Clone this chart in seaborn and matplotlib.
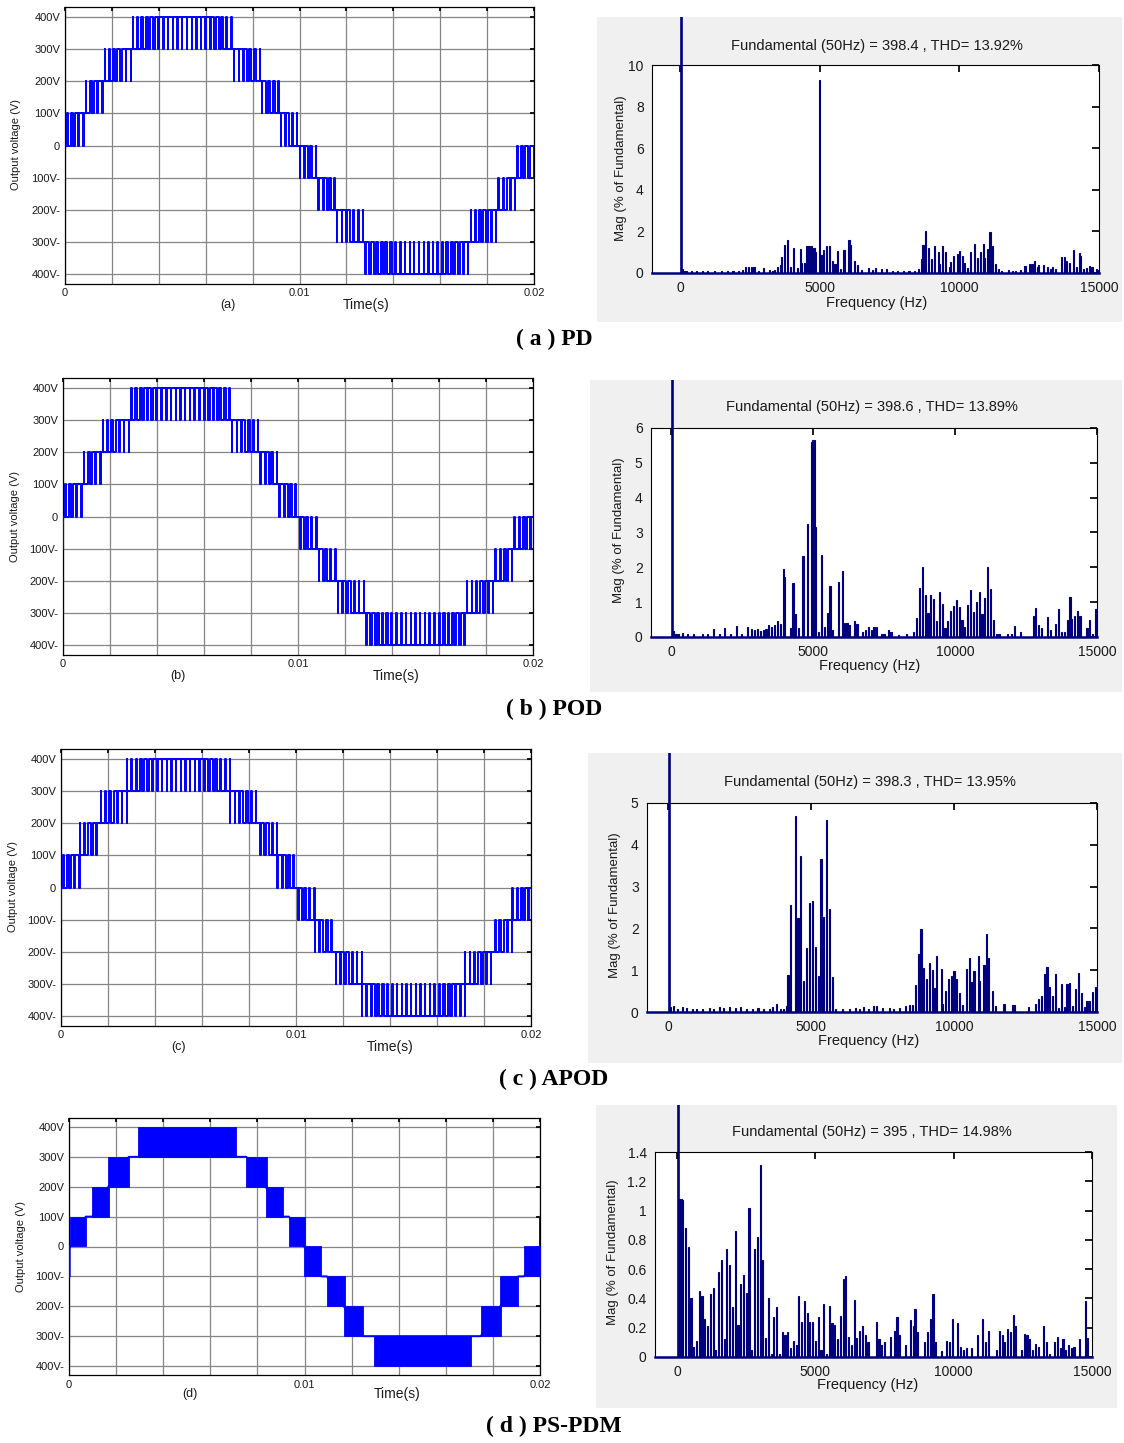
import numpy as np
import pandas as pd
import matplotlib
matplotlib.use("Agg")
import matplotlib.pyplot as plt
from matplotlib.patches import Rectangle
import seaborn as sns

# ----------------------------------------------------------------- data
# mean output voltage in each 0.2 ms carrier period, panels (a)-(c)
carrier_period_ms = 0.2
period_mean_v = [
    12, 37, 62, 87, 111, 135, 158, 181, 203, 224, 244, 263, 281, 299, 315, 329, 343, 355, 365, 375,
    382, 388, 393, 396, 398, 398, 396, 393, 388, 382, 375, 365, 355, 343, 329, 315, 299, 281, 263, 244,
    224, 203, 181, 158, 135, 111, 87, 62, 37, 12,
    -12, -37, -62, -87, -111, -135, -158, -181, -203, -224, -244, -263, -281, -299, -315, -329, -343, -355, -365, -375,
    -382, -388, -393, -396, -398, -398, -396, -393, -388, -382, -375, -365, -355, -343, -329, -315, -299, -281, -263, -244,
    -224, -203, -181, -158, -135, -111, -87, -62, -37, -12,
]
# carrier bands (index = floor(v/100)) whose carrier is phase-opposed
inverted_bands_a = []
inverted_bands_b = [-1, -2, -3, -4]
inverted_bands_c = [1, 3, -1, -3]
start_dip_v = [None, -100, -100]          # short initial dip seen in (b), (c)

# PS-PDM (d): solid switching blocks, ms and lower level (V), each block 100 V tall
d_block_start_ms = [0.06, 0.99, 1.67, 2.95, 7.53, 8.35, 9.34, 9.99, 10.95, 11.67, 12.93, 17.48, 18.31, 19.32]
d_block_end_ms = [0.71, 1.70, 2.54, 7.10, 8.40, 9.08, 10.04, 10.71, 11.70, 12.50, 17.08, 18.36, 19.07, 20.0]
d_block_low_v = [0, 100, 200, 300, 200, 100, 0, -100, -200, -300, -400, -300, -200, -100]
d_start_v = [-100, 0]
d_end_v = [0, 100]

volt_ticks = [400, 300, 200, 100, 0, -100, -200, -300, -400]
volt_labels = ["400V", "300V", "200V", "100V", "0", "100V-", "200V-", "300V-", "400V-"]
time_ticks = [0, 0.002, 0.004, 0.006, 0.008, 0.01, 0.012, 0.014, 0.016, 0.018, 0.02]
time_labels = ["0", "", "", "", "", "0.01", "", "", "", "", "0.02"]
panel_letters = ["(a)", "(b)", "(c)", "(d)"]
captions = ["( a ) PD", "( b ) POD", "( c ) APOD", "( d ) PS-PDM"]

# harmonic spectra: (frequency Hz, magnitude % of fundamental)
spec_a = [(50, 100), (100, 0.2), (150, 0.12), (250, 0.1), (400, 0.08), (600, 0.1), (800, 0.1), (1000, 0.08),
          (1250, 0.1), (1500, 0.12), (1700, 0.08), (1900, 0.12), (2100, 0.1), (2250, 0.15), (2350, 0.3),
          (2450, 0.28), (2550, 0.3), (2650, 0.3), (2800, 0.12), (3000, 0.25), (3200, 0.15), (3300, 0.12),
          (3400, 0.15), (3500, 0.3), (3600, 0.4), (3650, 0.75), (3750, 1.35), (3850, 1.6), (3950, 0.3),
          (4050, 1.2), (4200, 0.25), (4300, 1.15), (4350, 0.5), (4450, 0.5), (4550, 1.3), (4600, 1.3),
          (4650, 1.3), (4700, 1.3), (4800, 1.2), (4850, 1.0), (5000, 9.3), (5050, 0.85), (5150, 1.1),
          (5250, 1.3), (5350, 1.3), (5450, 0.6), (5550, 0.45), (5650, 1.05), (5750, 0.2), (5850, 1.1),
          (5900, 1.1), (6050, 1.6), (6100, 1.35), (6250, 0.6), (6350, 0.4), (6500, 0.15), (6750, 0.25),
          (6900, 0.15), (7000, 0.25), (7200, 0.2), (7400, 0.2), (7600, 0.12), (7800, 0.1), (8000, 0.1),
          (8200, 0.08), (8400, 0.1), (8550, 0.2), (8650, 0.65), (8700, 1.35), (8800, 2.0), (8900, 1.2),
          (9000, 0.65), (9100, 1.3), (9250, 1.0), (9300, 0.45), (9400, 1.3), (9500, 1.0), (9650, 0.3),
          (9700, 0.55), (9800, 0.8), (9950, 0.9), (10000, 1.05), (10100, 0.8), (10200, 0.5), (10300, 0.25),
          (10400, 1.0), (10550, 1.4), (10650, 0.7), (10750, 1.0), (10850, 1.4), (10900, 0.7), (11000, 1.15),
          (11100, 1.95), (11200, 1.3), (11300, 0.45), (11400, 0.2), (11500, 0.1), (11750, 0.15), (11900, 0.1),
          (12000, 0.1), (12200, 0.15), (12350, 0.35), (12500, 0.45), (12600, 0.45), (12700, 0.6), (12800, 0.3),
          (12850, 0.4), (13000, 0.4), (13150, 0.3), (13250, 0.2), (13350, 0.3), (13450, 0.2), (13650, 0.75),
          (13750, 0.75), (13850, 0.6), (13950, 0.5), (14100, 1.1), (14200, 0.3), (14300, 0.95), (14350, 0.8),
          (14450, 0.2), (14550, 0.25), (14650, 0.35), (14750, 0.3), (14900, 0.2), (15000, 0.15)]

spec_b = [(50, 100), (100, 0.18), (150, 0.1), (250, 0.08), (400, 0.12), (600, 0.08), (800, 0.1), (1100, 0.08),
          (1300, 0.1), (1500, 0.22), (1700, 0.1), (1900, 0.26), (2100, 0.08), (2300, 0.32), (2500, 0.1),
          (2700, 0.3), (2850, 0.22), (2950, 0.2), (3050, 0.22), (3150, 0.18), (3250, 0.2), (3350, 0.22),
          (3450, 0.35), (3550, 0.3), (3650, 0.35), (3750, 0.45), (3850, 0.38), (3950, 1.95), (4000, 1.72),
          (4200, 0.25), (4300, 1.55), (4400, 0.65), (4500, 0.25), (4650, 2.32), (4800, 3.25), (4950, 5.6),
          (5000, 5.65), (5050, 5.65), (5100, 3.15), (5200, 0.15), (5300, 2.35), (5400, 0.3), (5500, 0.7),
          (5600, 1.45), (5700, 0.2), (5900, 1.58), (6050, 1.9), (6100, 0.4), (6200, 0.4), (6300, 0.35),
          (6450, 0.45), (6550, 0.38), (6750, 0.15), (6850, 0.2), (6950, 0.3), (7050, 0.2), (7150, 0.3),
          (7250, 0.3), (7400, 0.08), (7500, 0.1), (7650, 0.2), (7750, 0.15), (8000, 0.06), (8300, 0.1),
          (8550, 0.15), (8650, 0.55), (8750, 1.4), (8850, 2.0), (8950, 1.2), (9050, 0.7), (9150, 1.22),
          (9250, 1.1), (9350, 0.45), (9450, 1.3), (9550, 0.95), (9650, 0.25), (9750, 0.45), (9850, 0.75),
          (9950, 0.9), (10050, 1.05), (10150, 0.85), (10250, 0.5), (10350, 0.3), (10450, 0.92), (10550, 1.35),
          (10650, 0.72), (10750, 1.0), (10850, 1.28), (10950, 0.65), (11050, 1.12), (11150, 2.0), (11250, 1.38),
          (11350, 0.48), (11450, 0.1), (11550, 0.1), (11850, 0.1), (12000, 0.1), (12100, 0.33), (12300, 0.15),
          (12750, 0.6), (12850, 0.83), (12950, 0.35), (13050, 0.27), (13250, 0.57), (13350, 0.2), (13550, 0.38),
          (13650, 0.8), (13750, 0.15), (13850, 0.15), (13950, 0.48), (14050, 1.15), (14100, 0.52), (14200, 0.6),
          (14300, 0.75), (14400, 0.6), (14650, 0.25), (14750, 0.5), (14850, 0.1), (14950, 0.8), (15000, 0.8)]

spec_c = [(50, 100), (100, 0.12), (200, 0.15), (350, 0.08), (500, 0.12), (650, 0.1), (850, 0.08), (1000, 0.06),
          (1200, 0.08), (1450, 0.1), (1600, 0.08), (1800, 0.12), (1950, 0.1), (2150, 0.12), (2350, 0.1),
          (2550, 0.12), (2750, 0.08), (2950, 0.08), (3150, 0.1), (3350, 0.08), (3550, 0.06), (3650, 0.12),
          (3800, 0.18), (3950, 0.08), (4050, 0.08), (4150, 0.15), (4200, 0.88), (4300, 2.55), (4450, 4.68),
          (4550, 2.25), (4650, 3.73), (4750, 0.75), (4850, 1.52), (4950, 2.6), (5050, 2.65), (5150, 1.55),
          (5250, 0.85), (5350, 3.65), (5450, 2.27), (5550, 4.6), (5650, 2.47), (5750, 0.83), (5850, 0.08),
          (6100, 0.06), (6350, 0.08), (6550, 0.1), (6700, 0.08), (6850, 0.12), (7000, 0.06), (7200, 0.15),
          (7300, 0.15), (7500, 0.1), (7750, 0.1), (7900, 0.08), (8100, 0.1), (8300, 0.15), (8450, 0.17),
          (8550, 0.17), (8650, 0.65), (8750, 1.38), (8850, 1.98), (8950, 1.05), (9050, 0.8), (9150, 1.18),
          (9250, 1.0), (9300, 0.57), (9400, 1.33), (9550, 1.03), (9600, 0.2), (9700, 0.5), (9800, 0.8),
          (9900, 0.85), (10000, 0.98), (10100, 0.8), (10200, 0.45), (10300, 0.17), (10450, 1.03), (10550, 1.3),
          (10600, 0.72), (10700, 0.98), (10850, 1.35), (10900, 0.75), (11050, 1.13), (11150, 1.87), (11200, 1.28),
          (11350, 0.5), (11450, 0.15), (11750, 0.18), (12050, 0.17), (12100, 0.17), (12600, 0.12), (12850, 0.2),
          (12950, 0.3), (13050, 0.38), (13150, 0.9), (13250, 1.08), (13350, 0.6), (13450, 0.38), (13550, 0.9),
          (13650, 0.1), (13750, 0.68), (13850, 0.12), (13950, 0.66), (14050, 0.7), (14150, 0.15), (14250, 0.55),
          (14350, 0.93), (14450, 0.45), (14550, 0.12), (14650, 0.27), (14750, 0.27), (14850, 0.48), (14950, 0.6),
          (15000, 0.6)]

spec_d = [(50, 100), (100, 1.08), (150, 1.08), (200, 1.07), (300, 0.88), (400, 0.75), (500, 0.4), (600, 0.07),
          (700, 0.11), (800, 0.45), (900, 0.42), (1000, 0.26), (1100, 0.21), (1200, 0.43), (1300, 0.47),
          (1400, 0.05), (1500, 0.58), (1600, 0.66), (1700, 0.12), (1800, 0.74), (1900, 0.63), (2000, 0.34),
          (2100, 0.86), (2200, 0.22), (2300, 0.5), (2400, 0.56), (2500, 0.44), (2600, 1.02), (2700, 0.05),
          (2800, 0.74), (2900, 0.82), (3000, 1.31), (3100, 0.66), (3200, 0.13), (3300, 0.4), (3400, 0.02),
          (3500, 0.27), (3600, 0.34), (3700, 0.02), (3800, 0.17), (3900, 0.15), (4000, 0.17), (4100, 0.06),
          (4200, 0.11), (4300, 0.08), (4400, 0.42), (4500, 0.24), (4600, 0.38), (4700, 0.3), (4800, 0.24),
          (4900, 0.24), (5000, 0.11), (5100, 0.27), (5200, 0.05), (5300, 0.36), (5400, 0.02), (5500, 0.35),
          (5600, 0.23), (5700, 0.22), (5800, 0.12), (5900, 0.28), (6000, 0.53), (6100, 0.55), (6200, 0.14),
          (6300, 0.08), (6400, 0.39), (6500, 0.13), (6600, 0.18), (6700, 0.21), (6800, 0.15), (6900, 0.1),
          (7200, 0.24), (7300, 0.12), (7400, 0.08), (7500, 0.1), (7700, 0.14), (7850, 0.18), (7950, 0.27),
          (8050, 0.15), (8250, 0.08), (8450, 0.25), (8550, 0.21), (8600, 0.33), (8700, 0.17), (8950, 0.1),
          (9050, 0.17), (9150, 0.26), (9250, 0.43), (9350, 0.1), (9550, 0.04), (9750, 0.11), (9850, 0.1),
          (9950, 0.26), (10150, 0.23), (10250, 0.07), (10350, 0.05), (10450, 0.06), (10650, 0.06), (10850, 0.15),
          (11050, 0.26), (11150, 0.1), (11250, 0.18), (11550, 0.05), (11650, 0.18), (11750, 0.15), (11850, 0.1),
          (11950, 0.19), (12050, 0.17), (12150, 0.29), (12250, 0.21), (12450, 0.05), (12550, 0.16), (12650, 0.15),
          (12750, 0.12), (12850, 0.05), (12950, 0.09), (13050, 0.07), (13250, 0.21), (13350, 0.1), (13450, 0.02),
          (13650, 0.1), (13750, 0.14), (13850, 0.06), (13950, 0.12), (14050, 0.05), (14150, 0.08), (14250, 0.06),
          (14350, 0.07), (14550, 0.12), (14750, 0.38), (14850, 0.13)]

fund_titles = ["Fundamental (50Hz) = 398.4 , THD= 13.92%",
               "Fundamental (50Hz) = 398.6 , THD= 13.89%",
               "Fundamental (50Hz) = 398.3 , THD= 13.95%",
               "Fundamental (50Hz) = 395 , THD= 14.98%"]
spec_yticks = [[0, 2, 4, 6, 8, 10], [0, 1, 2, 3, 4, 5, 6], [0, 1, 2, 3, 4, 5],
               [0, 0.2, 0.4, 0.6, 0.8, 1.0, 1.2, 1.4]]
spec_yticklabels = [["0", "2", "4", "6", "8", "10"], ["0", "1", "2", "3", "4", "5", "6"],
                    ["0", "1", "2", "3", "4", "5"],
                    ["0", "0.2", "0.4", "0.6", "0.8", "1", "1.2", "1.4"]]
freq_ticks = [0, 5000, 10000, 15000]

# ----------------------------------------------------------------- layout (pixels)
W, H = 1124, 1443
left_boxes = [(65, 7.4, 534, 283.6), (63, 378.4, 533, 654.6), (61, 749.4, 531, 1025.6), (69, 1118, 540, 1375)]
left_ylabel_xy = [(16, 145), (15, 517), (13, 887), (21, 1246)]
left_letter_xy = [(228, 305), (178, 676), (179, 1047), (190, 1394)]
left_time_xy = [(366, 305), (396, 676), (390, 1047), (397, 1394)]
gray_boxes = [(597, 17, 1122, 322), (590, 380, 1122, 692), (588, 753, 1122, 1063), (596, 1105, 1117, 1408)]
right_boxes = [(652, 65, 1099, 273), (651, 428, 1097, 637), (647, 803, 1097, 1012), (655, 1152, 1092, 1357)]
right_xmin = [-1000, -700, -730, -800]
title_xy = [(877, 46), (872, 407), (870, 782), (872, 1132)]
xlabel_xy = [(877, 303), (870, 666), (869, 1041), (868, 1385)]
ylabel_xy = [(621, 168), (619, 530), (615, 905), (613, 1252)]
caption_xy = [(554, 339), (554, 709), (554, 1079), (554, 1426)]

WAVE_BLUE = "#0000ff"
BAR_NAVY = "#00007f"
TXT = "#1a1a1a"

sns.set_theme(style="white")
plt.rcParams['font.family'] = ['Liberation Sans', 'DejaVu Sans']


def frect(x0, y0, x1, y1):
    return [x0 / W, 1 - y1 / H, (x1 - x0) / W, (y1 - y0) / H]


def fpt(x, y):
    return x / W, 1 - y / H


def pwm_trace(means, T, inverted, dip):
    t, v = [], []
    if dip is not None:
        t.append(0.0)
        v.append(dip)
    for k, m in enumerate(means):
        lo = np.floor(m / 100.0) * 100.0
        d = (m - lo) / 100.0
        band = int(lo // 100)
        t0 = k * T + (0.02 if (k == 0 and dip is not None) else 0.0)
        if band in inverted:
            t += [t0, k * T + d * T / 2, k * T + T - d * T / 2]
            v += [lo + 100, lo, lo + 100]
        else:
            t += [t0, k * T + (1 - d) * T / 2, k * T + (1 + d) * T / 2]
            v += [lo, lo + 100, lo]
    t.append(len(means) * T)
    v.append(v[-1])
    return np.array(t) / 1000.0, np.array(v)


fig = plt.figure(figsize=(W / 100, H / 100), dpi=100)
fig.patch.set_facecolor("white")

inverted_sets = [inverted_bands_a, inverted_bands_b, inverted_bands_c]

# ---------------------------------------------------------- time-domain panels
for i in range(4):
    ax = fig.add_axes(frect(*left_boxes[i]))
    ax.set_facecolor("white")
    if i < 3:
        t, v = pwm_trace(period_mean_v, carrier_period_ms, inverted_sets[i], start_dip_v[i])
        df = pd.DataFrame({"t": t, "v": v})
        sns.lineplot(data=df, x="t", y="v", ax=ax, estimator=None, sort=False,
                     drawstyle="steps-post", color=WAVE_BLUE, linewidth=1.4, zorder=3)
    else:
        # connecting path between the solid PS-PDM blocks
        pt, pv = [0.0, 0.03, 0.03], [d_start_v[0], d_start_v[0], d_start_v[1]]
        n = len(d_block_low_v)
        for j in range(n):
            lo_j, hi_j = d_block_low_v[j], d_block_low_v[j] + 100
            if j == 0:
                lvl_in = d_start_v[1]
            else:
                plo, phi = d_block_low_v[j - 1], d_block_low_v[j - 1] + 100
                lvl_in = lo_j if lo_j in (plo, phi) else hi_j
            if j == n - 1:
                lvl_out = d_end_v[0]
            else:
                nlo, nhi = d_block_low_v[j + 1], d_block_low_v[j + 1] + 100
                lvl_out = lo_j if lo_j in (nlo, nhi) else hi_j
            pt += [d_block_start_ms[j], d_block_end_ms[j]]
            pv += [lvl_in, lvl_out]
        pt += [20.0]
        pv += [d_end_v[1]]
        df = pd.DataFrame({"t": np.array(pt) / 1000.0, "v": pv})
        sns.lineplot(data=df, x="t", y="v", ax=ax, estimator=None, sort=False,
                     color=WAVE_BLUE, linewidth=1.4, zorder=3)
        for s, e, lo in zip(d_block_start_ms, d_block_end_ms, d_block_low_v):
            ax.fill_between([s / 1000.0, e / 1000.0], [lo, lo], [lo + 100, lo + 100],
                            color=WAVE_BLUE, linewidth=0.6, edgecolor=WAVE_BLUE, zorder=4)
    ax.set_xlim(0, 0.02)
    ax.set_ylim(-430, 430)
    ax.set_yticks(volt_ticks)
    ax.set_yticklabels(volt_labels)
    ax.set_xticks(time_ticks)
    ax.set_xticklabels(time_labels)
    ax.set_xlabel("")
    ax.set_ylabel("")
    ax.grid(True, color="#858585", linewidth=0.9, zorder=0)
    ax.set_axisbelow(True)
    ax.tick_params(direction="in", length=3, top=True, right=True, labelsize=8,
                   pad=3.5, colors="black", labelcolor=TXT)
    for sp in ax.spines.values():
        sp.set_color("black")
        sp.set_linewidth(0.9)
    fig.text(*fpt(*left_ylabel_xy[i]), "Output voltage (V)", rotation=90, ha="center", va="center",
             fontsize=8, color=TXT)
    fig.text(*fpt(*left_letter_xy[i]), panel_letters[i], ha="center", va="center", fontsize=9, color=TXT)
    fig.text(*fpt(*left_time_xy[i]), "Time(s)", ha="center", va="center", fontsize=10, color=TXT)

# ---------------------------------------------------------- spectrum panels
specs = [spec_a, spec_b, spec_c, spec_d]
for i in range(4):
    gx0, gy0, gx1, gy1 = gray_boxes[i]
    bg = Rectangle((gx0 / W, 1 - gy1 / H), (gx1 - gx0) / W, (gy1 - gy0) / H,
                   transform=fig.transFigure, facecolor="#f0f0f0", edgecolor="none", zorder=0)
    fig.add_artist(bg)
    ax = fig.add_axes(frect(*right_boxes[i]))
    ax.set_facecolor("white")
    sdf = pd.DataFrame(specs[i], columns=["hz", "mag"])
    sns.barplot(data=sdf, x="hz", y="mag", ax=ax, native_scale=True, orient="x", width=0.8,
                color=BAR_NAVY, saturation=1, errorbar=None, edgecolor=BAR_NAVY, linewidth=0.8)
    for p in ax.patches:
        if p.get_x() < 100 and p.get_height() > 50:
            p.set_clip_path(bg)
            p.set_linewidth(1.2)
            p.set_zorder(5)
    ax.set_xlim(right_xmin[i], 15000)
    ax.set_ylim(0, spec_yticks[i][-1])
    ax.set_xticks(freq_ticks)
    ax.set_xticklabels([str(f) for f in freq_ticks])
    ax.set_yticks(spec_yticks[i])
    ax.set_yticklabels(spec_yticklabels[i])
    ax.set_xlabel("")
    ax.set_ylabel("")
    ax.grid(False)
    ax.tick_params(direction="in", length=5, top=True, right=True, labelsize=10, pad=6,
                   colors="black", labelcolor=TXT)
    for sp in ax.spines.values():
        sp.set_color("black")
        sp.set_linewidth(0.8)
    ax.spines["bottom"].set_color(BAR_NAVY)
    ax.spines["bottom"].set_linewidth(1.8)
    fig.text(*fpt(*title_xy[i]), fund_titles[i], ha="center", va="center", fontsize=10.5, color=TXT)
    fig.text(*fpt(*xlabel_xy[i]), "Frequency (Hz)", ha="center", va="center", fontsize=10.5, color=TXT)
    fig.text(*fpt(*ylabel_xy[i]), "Mag (% of Fundamental)", rotation=90, ha="center", va="center",
             fontsize=9.5, color=TXT)

# ---------------------------------------------------------- captions
for i in range(4):
    fig.text(*fpt(*caption_xy[i]), captions[i], ha="center", va="center", fontsize=17,
             fontweight="bold", family=["Liberation Serif", "DejaVu Serif"], color="black")

fig.savefig("out.png", dpi=100, facecolor="white")
